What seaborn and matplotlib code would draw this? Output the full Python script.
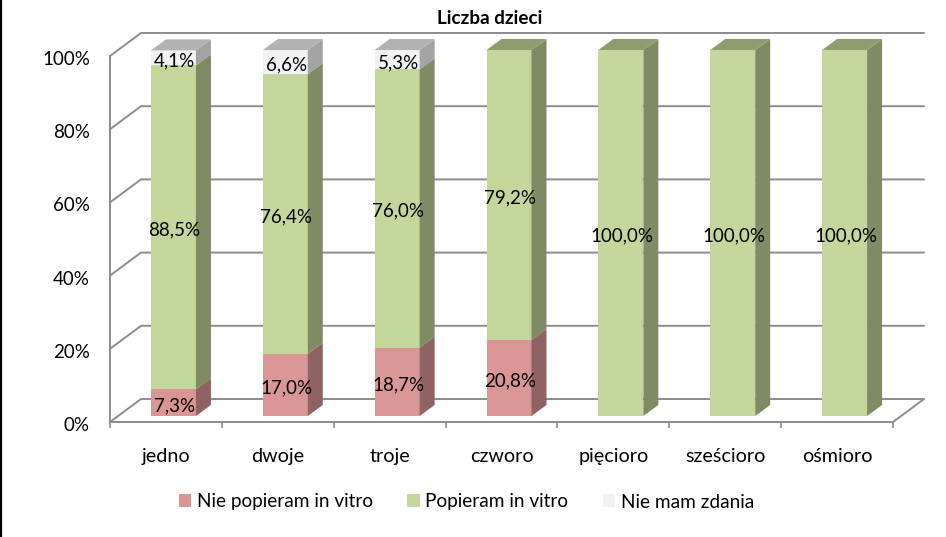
# Liczba dzieci - stacked bars with a drawn 3D look
import numpy as np
import pandas as pd
import matplotlib.pyplot as plt
from matplotlib.patches import Polygon
from matplotlib.transforms import ScaledTranslation
import seaborn as sns

categories = ["jedno", "dwoje", "troje", "czworo", "pięcioro", "sześcioro", "ośmioro"]
nie_popieram = [7.3, 17.0, 18.7, 20.8, 0, 0, 0]
popieram = [88.5, 76.4, 76.0, 79.2, 100.0, 100.0, 100.0]
nie_mam_zdania = [4.1, 6.6, 5.3, 0, 0, 0, 0]
series_names = ["Nie popieram in vitro", "Popieram in vitro", "Nie mam zdania"]
y_ticks = [0, 20, 40, 60, 80, 100]

front_colors = ["#D99694", "#C3D69B", "#F2F2F2"]
side_colors = ["#8E6362", "#7F8C63", "#A3A3A3"]
top_colors = ["#A07472", "#8F9C6E", "#B2B2B2"]
line_color = "#8C8C8C"

sns.set_theme(style="white")
plt.rcParams["font.family"] = ["Lato", "DejaVu Sans"]

W, H = 946, 537
fig = plt.figure(figsize=(W / 100, H / 100), dpi=100)

# frame axes: front plane of the chart, in pixels of the picture
left, right, y0, y100 = 110, 893, 422, 56
ax = fig.add_axes([left / W, 1 - y0 / H, (right - left) / W, (y0 - y100) / H])
# bars stand a bit behind the front plane, so they get their own axes
shift_x, shift_y = 7.5, 6
ax_bars = fig.add_axes([(left + shift_x) / W, 1 - (y0 - shift_y) / H,
                        (right - left) / W, (y0 - y100) / H])
ax_bars.patch.set_visible(False)

n = len(categories)
cat_px = (right - left) / n
pct_px = (y0 - y100) / 100

# ---- walls and grid ----
wall_dx, wall_dy = 31 / cat_px, 23 / pct_px
ax.set_xlim(-0.5, n - 0.5)
ax.set_ylim(0, 100)
sns.despine(ax=ax, top=True, right=True)
for side in ["left", "bottom"]:
    ax.spines[side].set_color(line_color)
    ax.spines[side].set_linewidth(1.4)
for t in y_ticks:
    ax.plot([-0.5, -0.5 + wall_dx, n - 0.5 + wall_dx], [t, t + wall_dy, t + wall_dy],
            color=line_color, lw=1.4, clip_on=False)
ax.plot([n - 0.5, n - 0.5 + wall_dx], [0, wall_dy], color=line_color, lw=1.4, clip_on=False)

ax.set_yticks(y_ticks)
ax.set_yticklabels([f"{t}%" for t in y_ticks])
ax.set_xticks(np.arange(n))
ax.set_xticklabels(categories)
ax.set_xticks(np.arange(n + 1) - 0.5, minor=True)
ax.tick_params(axis="y", length=4.5, width=1.2, color=line_color, pad=10, labelsize=13.5, labelcolor="black")
ax.tick_params(axis="x", which="minor", length=4, width=1.2, color=line_color, bottom=True)
ax.tick_params(axis="x", which="major", length=0, pad=18.7, labelsize=14.2, labelcolor="black")
# y labels sit 2 px under their ticks in the reference
for lab in ax.get_yticklabels():
    lab.set_transform(lab.get_transform() + ScaledTranslation(0, -2 / 100, fig.dpi_scale_trans))

# ---- stacked bars, tallest stack drawn first ----
values = np.array([nie_popieram, popieram, nie_mam_zdania])
tops = values.cumsum(axis=0)
bar_width = 45 / cat_px
for k in [2, 1, 0]:
    df = pd.DataFrame({"kat": categories, "val": tops[k]})
    sns.barplot(data=df, x="kat", y="val", ax=ax_bars, order=categories, color=front_colors[k],
                saturation=1, width=bar_width, linewidth=0, label=series_names[k], legend=False)
handles, labels = ax_bars.get_legend_handles_labels()
if ax_bars.get_legend() is not None:
    ax_bars.get_legend().remove()
ax_bars.set_xlim(-0.5, n - 0.5)
ax_bars.set_ylim(0, 100)
ax_bars.axis("off")

# ---- side and top faces ----
depth_x, depth_y = 15 / cat_px, 11 / pct_px
for i in range(n):
    xr = i + bar_width / 2
    xl = i - bar_width / 2
    bottoms = np.concatenate([[0], tops[:, i]])
    for k in range(3):
        if values[k, i] == 0:
            continue
        b, t = bottoms[k], tops[k, i]
        ax_bars.add_patch(Polygon([(xr, b), (xr + depth_x, b + depth_y), (xr + depth_x, t + depth_y), (xr, t)],
                                  closed=True, fc=side_colors[k], ec="none", clip_on=False))
        last_k = k
    t = tops[last_k, i]
    ax_bars.add_patch(Polygon([(xl, t), (xl + depth_x, t + depth_y), (xr + depth_x, t + depth_y), (xr, t)],
                              closed=True, fc=top_colors[last_k], ec="none", clip_on=False))

# ---- value labels ----
for i in range(n):
    bottoms = np.concatenate([[0], tops[:, i]])
    for k in range(3):
        if values[k, i] == 0:
            continue
        ax_bars.annotate(f"{values[k, i]:.1f}%".replace(".", ","),
                         (i, (bottoms[k] + tops[k, i]) / 2), xytext=(0.7, -2), textcoords="offset points",
                         ha="center", va="center", fontsize=13.5, color="black",
                         annotation_clip=False, zorder=5)

fig.text(489.5 / W, 1 - 18 / H, "Liczba dzieci", ha="center", va="center",
         fontsize=13.6, fontweight="bold", color="black")

# legend
fig.legend(handles[::-1], labels[::-1], loc="center", bbox_to_anchor=(466.5 / W, 1 - 502 / H), ncol=3,
           frameon=False, fontsize=13.7, handlelength=0.65, handleheight=0.65,
           handletextpad=0.3, columnspacing=1.8, labelcolor="black")

# black edge on the left of the source picture
fig.add_artist(plt.Line2D([0.5 / W, 0.5 / W], [0, 1], color="black", lw=1.6))

fig.savefig("out.png", dpi=100)
